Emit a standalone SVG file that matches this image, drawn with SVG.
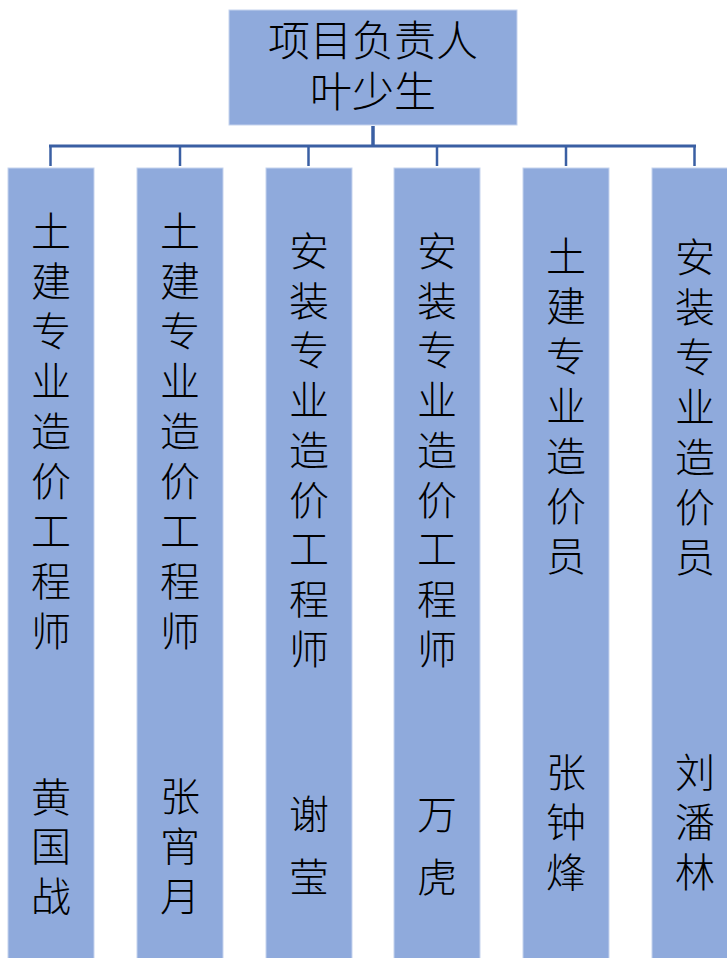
<svg xmlns="http://www.w3.org/2000/svg" width="727" height="958" viewBox="0 0 727 958">
<style>
.box{fill:#8FAADC;stroke:#C5D3EE;stroke-width:1}
.t{font-family:"Noto Sans CJK SC","Noto Sans CJK JP",sans-serif;font-weight:300;fill:#000}
.h{font-family:"DejaVu Sans","Noto Sans CJK SC","Noto Sans CJK JP",sans-serif;font-size:42px;text-anchor:middle;dominant-baseline:central}
.v{font-size:40px;writing-mode:vertical-rl;text-orientation:upright}
.ln{stroke:#3A5FA3;fill:none}
</style>
<rect width="727" height="958" fill="#ffffff"/>
<g id="connectors">
<line class="ln" x1="373" y1="126" x2="373" y2="147" stroke-width="3.5"/>
<line class="ln" x1="49" y1="146" x2="696" y2="146" stroke-width="3"/>
<line class="ln" x1="50.5" y1="146" x2="50.5" y2="166" stroke-width="2.5"/>
<line class="ln" x1="180" y1="146" x2="180" y2="166" stroke-width="2.5"/>
<line class="ln" x1="308.5" y1="146" x2="308.5" y2="166" stroke-width="2.5"/>
<line class="ln" x1="437" y1="146" x2="437" y2="166" stroke-width="2.5"/>
<line class="ln" x1="566" y1="146" x2="566" y2="166" stroke-width="2.5"/>
<line class="ln" x1="694.5" y1="146" x2="694.5" y2="166" stroke-width="2.5"/>
</g>
<g id="head">
<rect class="box" x="229" y="10" width="288" height="115"/>
<text class="t h" x="373" y="41">项目负责人</text>
<text class="t h" x="373" y="92">叶少生</text>
</g>
<g id="col1">
<rect class="box" x="8" y="168" width="86" height="792"/>
<text class="t v" x="51" y="211">土</text>
<text class="t v" x="51" y="261">建</text>
<text class="t v" x="51" y="311">专</text>
<text class="t v" x="51" y="361">业</text>
<text class="t v" x="51" y="411">造</text>
<text class="t v" x="51" y="461">价</text>
<text class="t v" x="51" y="511">工</text>
<text class="t v" x="51" y="561">程</text>
<text class="t v" x="51" y="611">师</text>
<text class="t v" x="51" y="777">黄</text>
<text class="t v" x="51" y="826">国</text>
<text class="t v" x="51" y="876">战</text>
</g>
<g id="col2">
<rect class="box" x="137" y="168" width="86" height="792"/>
<text class="t v" x="180" y="211">土</text>
<text class="t v" x="180" y="261">建</text>
<text class="t v" x="180" y="311">专</text>
<text class="t v" x="180" y="361">业</text>
<text class="t v" x="180" y="411">造</text>
<text class="t v" x="180" y="461">价</text>
<text class="t v" x="180" y="511">工</text>
<text class="t v" x="180" y="561">程</text>
<text class="t v" x="180" y="611">师</text>
<text class="t v" x="180" y="776">张</text>
<text class="t v" x="180" y="826">宵</text>
<text class="t v" x="180" y="876">月</text>
</g>
<g id="col3">
<rect class="box" x="266" y="168" width="86" height="792"/>
<text class="t v" x="309" y="231">安</text>
<text class="t v" x="309" y="281">装</text>
<text class="t v" x="309" y="330">专</text>
<text class="t v" x="309" y="380">业</text>
<text class="t v" x="309" y="430">造</text>
<text class="t v" x="309" y="480">价</text>
<text class="t v" x="309" y="529">工</text>
<text class="t v" x="309" y="579">程</text>
<text class="t v" x="309" y="629">师</text>
<text class="t v" x="309" y="794">谢</text>
<text class="t v" x="309" y="857">莹</text>
</g>
<g id="col4">
<rect class="box" x="394" y="168" width="86" height="792"/>
<text class="t v" x="437" y="231">安</text>
<text class="t v" x="437" y="281">装</text>
<text class="t v" x="437" y="330">专</text>
<text class="t v" x="437" y="380">业</text>
<text class="t v" x="437" y="430">造</text>
<text class="t v" x="437" y="480">价</text>
<text class="t v" x="437" y="529">工</text>
<text class="t v" x="437" y="579">程</text>
<text class="t v" x="437" y="629">师</text>
<text class="t v" x="437" y="794">万</text>
<text class="t v" x="437" y="857">虎</text>
</g>
<g id="col5">
<rect class="box" x="523" y="168" width="86" height="792"/>
<text class="t v" x="566" y="236">土</text>
<text class="t v" x="566" y="286">建</text>
<text class="t v" x="566" y="336">专</text>
<text class="t v" x="566" y="386">业</text>
<text class="t v" x="566" y="436">造</text>
<text class="t v" x="566" y="486">价</text>
<text class="t v" x="566" y="536">员</text>
<text class="t v" x="566" y="752">张</text>
<text class="t v" x="566" y="802">钟</text>
<text class="t v" x="566" y="852">烽</text>
</g>
<g id="col6">
<rect class="box" x="652" y="168" width="86" height="792"/>
<text class="t v" x="695" y="237">安</text>
<text class="t v" x="695" y="287">装</text>
<text class="t v" x="695" y="337">专</text>
<text class="t v" x="695" y="387">业</text>
<text class="t v" x="695" y="437">造</text>
<text class="t v" x="695" y="487">价</text>
<text class="t v" x="695" y="537">员</text>
<text class="t v" x="695" y="752">刘</text>
<text class="t v" x="695" y="802">潘</text>
<text class="t v" x="695" y="852">林</text>
</g>
</svg>
